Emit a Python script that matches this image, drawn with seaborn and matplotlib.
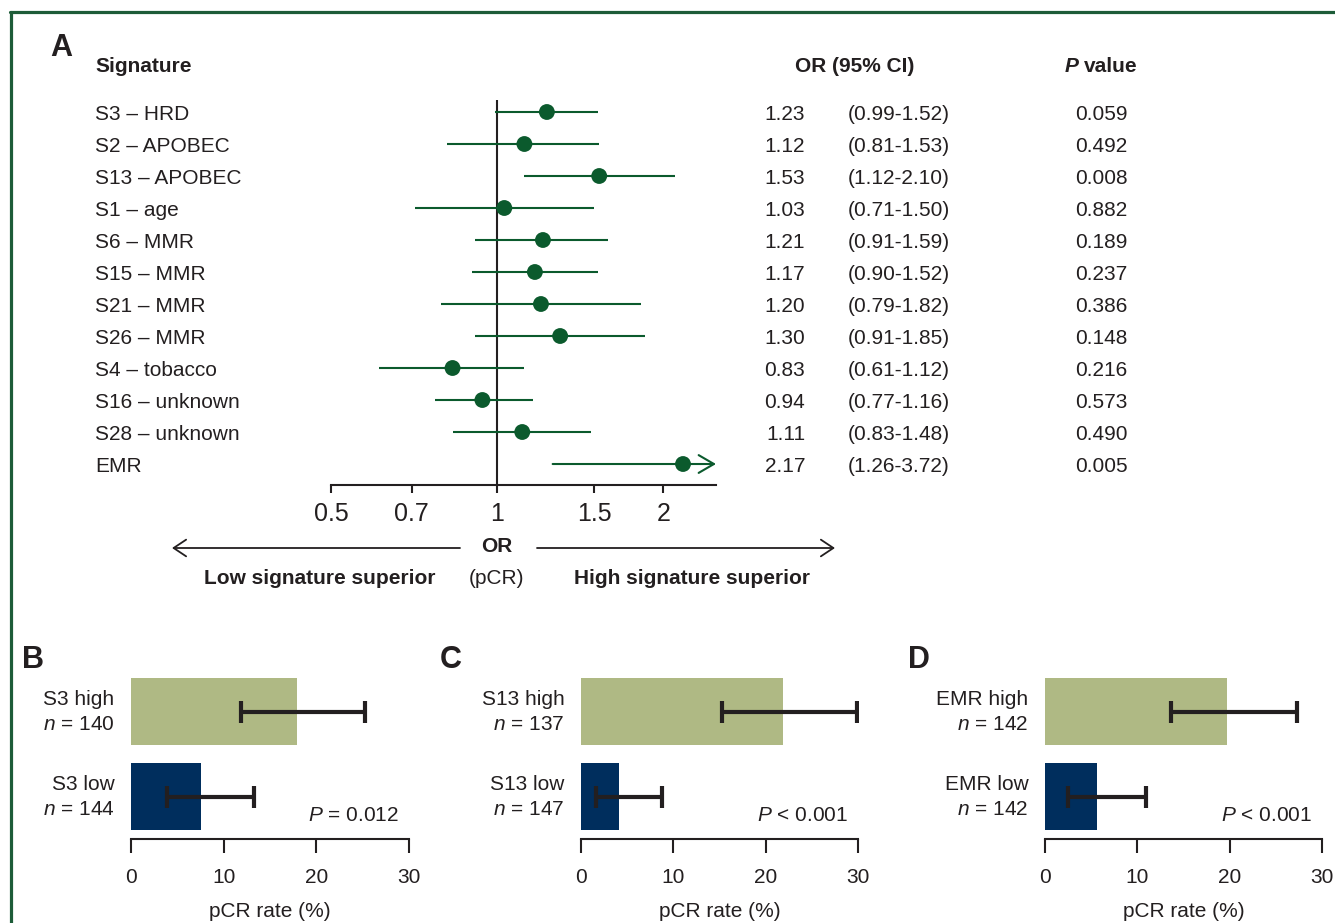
import matplotlib
matplotlib.use("Agg")
import matplotlib.pyplot as plt
import matplotlib.transforms as mtransforms
from matplotlib.lines import Line2D
from matplotlib.patches import ArrowStyle
import seaborn as sns
import pandas as pd

# ---------------- data ----------------
signatures = ["S3 \u2013 HRD", "S2 \u2013 APOBEC", "S13 \u2013 APOBEC", "S1 \u2013 age",
              "S6 \u2013 MMR", "S15 \u2013 MMR", "S21 \u2013 MMR", "S26 \u2013 MMR",
              "S4 \u2013 tobacco", "S16 \u2013 unknown", "S28 \u2013 unknown", "EMR"]
or_values = [1.23, 1.12, 1.53, 1.03, 1.21, 1.17, 1.20, 1.30, 0.83, 0.94, 1.11, 2.17]
ci_low = [0.99, 0.81, 1.12, 0.71, 0.91, 0.90, 0.79, 0.91, 0.61, 0.77, 0.83, 1.26]
ci_high = [1.52, 1.53, 2.10, 1.50, 1.59, 1.52, 1.82, 1.85, 1.12, 1.16, 1.48, 3.72]
p_values = ["0.059", "0.492", "0.008", "0.882", "0.189", "0.237", "0.386",
            "0.148", "0.216", "0.573", "0.490", "0.005"]
or_ticks = [0.5, 0.7, 1, 1.5, 2]
or_tick_labels = ["0.5", "0.7", "1", "1.5", "2"]

panel_letters = ["B", "C", "D"]
bar_groups = [["S3 high", "S3 low"], ["S13 high", "S13 low"], ["EMR high", "EMR low"]]
bar_n = [[140, 144], [137, 147], [142, 142]]
bar_rates = [[17.9, 7.6], [21.9, 4.1], [19.7, 5.6]]
bar_lo = [[11.9, 3.9], [15.3, 1.6], [13.6, 2.5]]
bar_hi = [[25.3, 13.3], [29.9, 8.8], [27.3, 10.9]]
bar_p = [" = 0.012", " < 0.001", " < 0.001"]
rate_ticks = [0, 10, 20, 30]

# ---------------- style ----------------
sns.set_theme(style="white")
plt.rcParams["font.family"] = ["Liberation Sans", "DejaVu Sans"]
plt.rcParams["mathtext.fontset"] = "custom"
plt.rcParams["mathtext.rm"] = "Liberation Sans"
plt.rcParams["mathtext.it"] = "Liberation Sans:italic"
plt.rcParams["mathtext.bf"] = "Liberation Sans:bold"

TXT = "#231f20"
GREEN = "#0b5a2d"
OLIVE = "#afb984"
NAVY = "#002e5d"
FRAME = "#1d5c38"
FS = 15

W, H = 1335, 923
fig = plt.figure(figsize=(W / 100, H / 100), dpi=100)


def fx(px):
    return px / W


def fy(py):
    return 1 - py / H


def rect(l, t, r, b):
    return [fx(l), fy(b), (r - l) / W, (b - t) / H]


# frame
fig.add_artist(Line2D([fx(10.5), fx(10.5)], [fy(11.5), 0], color=FRAME, lw=2.3))
fig.add_artist(Line2D([fx(9.5), 1], [fy(11.5), fy(11.5)], color=FRAME, lw=2.3))

# ---------------- panel A ----------------
ax = fig.add_axes(rect(331, 100, 716, 485))
ax.set_xscale("log")
xmin, xmax = 0.5, 2.49
rows = list(range(len(signatures)))
for i in rows:
    hi = min(ci_high[i], xmax)
    if ci_high[i] > xmax:
        ax.annotate("", xy=(hi, i), xytext=(ci_low[i], i), xycoords="data",
                    arrowprops=dict(arrowstyle=ArrowStyle("->", head_length=0.55, head_width=0.32),
                                    mutation_scale=20, color=GREEN, lw=1.5,
                                    shrinkA=0, shrinkB=0), annotation_clip=False)
    else:
        ax.hlines(i, ci_low[i], hi, color=GREEN, lw=1.5)
df_or = pd.DataFrame({"OR": or_values, "row": rows})
sns.scatterplot(data=df_or, x="OR", y="row", ax=ax, color=GREEN, s=130,
                edgecolor="none", zorder=3)
ax.axvline(1, color=TXT, lw=1.5, zorder=1)
ax.set_xlim(xmin, xmax)
ax.set_ylim(11.656, -0.375)
ax.set_xticks(or_ticks)
ax.set_xticklabels(or_tick_labels)
ax.minorticks_off()
ax.xaxis.set_minor_locator(matplotlib.ticker.NullLocator())
ax.tick_params(axis="x", direction="out", length=6, width=1.5, colors=TXT,
               labelsize=18, pad=6, bottom=True)
ax.set_yticks([])
ax.set_xlabel("")
ax.set_ylabel("")
for s in ["top", "right", "left"]:
    ax.spines[s].set_visible(False)
ax.spines["bottom"].set_color(TXT)
ax.spines["bottom"].set_linewidth(1.5)
ax.patch.set_alpha(0)

trans = mtransforms.blended_transform_factory(fig.transFigure, ax.transData)
for i in rows:
    fig.text(fx(95), i, signatures[i], transform=trans, fontsize=FS, color=TXT,
             ha="left", va="center_baseline")
    fig.text(fx(805), i, f"{or_values[i]:.2f}", transform=trans, fontsize=FS,
             color=TXT, ha="right", va="center_baseline")
    fig.text(fx(848), i, f"({ci_low[i]:.2f}-{ci_high[i]:.2f})", transform=trans,
             fontsize=FS, color=TXT, ha="left", va="center_baseline")
    fig.text(fx(1075), i, p_values[i], transform=trans, fontsize=FS, color=TXT,
             ha="left", va="center_baseline")

fig.text(fx(50), fy(45), "A", fontsize=22, fontweight="bold", color=TXT,
         ha="left", va="center_baseline")
fig.text(fx(95), fy(65), "Signature", fontsize=FS, fontweight="bold", color=TXT,
         ha="left", va="center_baseline")
fig.text(fx(795), fy(65), "OR (95% CI)", fontsize=FS, fontweight="bold", color=TXT,
         ha="left", va="center_baseline")
fig.text(fx(1065), fy(65), "P", fontsize=FS, fontweight="bold", style="italic",
         color=TXT, ha="left", va="center_baseline")
fig.text(fx(1084), fy(65), "value", fontsize=FS, fontweight="bold", color=TXT,
         ha="left", va="center_baseline")

# direction arrows
astyle = ArrowStyle("->", head_length=0.45, head_width=0.3)
for x0, x1 in [(460, 172), (537, 835)]:
    ax.annotate("", xy=(fx(x1), fy(548)), xytext=(fx(x0), fy(548)),
                xycoords="figure fraction", textcoords="figure fraction",
                arrowprops=dict(arrowstyle=astyle, mutation_scale=20, color=TXT,
                                lw=1.3, shrinkA=0, shrinkB=0),
                annotation_clip=False)
fig.text(fx(497), fy(544), "OR", fontsize=FS, fontweight="bold", color=TXT,
         ha="center", va="center_baseline")
fig.text(fx(497), fy(576), "(pCR)", fontsize=FS, color=TXT, ha="center",
         va="center_baseline")
fig.text(fx(320), fy(577), "Low signature superior", fontsize=FS, fontweight="bold",
         color=TXT, ha="center", va="center_baseline")
fig.text(fx(692), fy(577), "High signature superior", fontsize=FS, fontweight="bold",
         color=TXT, ha="center", va="center_baseline")

# ---------------- panels B-D ----------------
bar_rects = [(131, 678, 409, 839), (581, 678, 858, 839), (1045, 678, 1322, 839)]
letter_x = [22, 440, 908]
for k in range(3):
    bx = fig.add_axes(rect(*bar_rects[k]))
    dfb = pd.DataFrame({"rate": bar_rates[k], "group": bar_groups[k]})
    sns.barplot(data=dfb, x="rate", y="group", hue="group", palette=[OLIVE, NAVY],
                width=0.79, saturation=1, legend=False, errorbar=None,
                linewidth=0, orient="h", ax=bx)
    for j in range(2):
        r = bar_rates[k][j]
        bx.errorbar(r, j, xerr=[[r - bar_lo[k][j]], [bar_hi[k][j] - r]], fmt="none",
                    ecolor=TXT, elinewidth=3, capsize=8, capthick=3, zorder=4)
    bx.set_xlim(0, 30)
    bx.set_ylim(1.5, -0.4)
    bx.set_xticks(rate_ticks)
    bx.set_xticklabels([str(t) for t in rate_ticks])
    bx.set_yticks([0, 1])
    bx.set_yticklabels([f"{bar_groups[k][j]}\n$\\mathit{{n}}$ = {bar_n[k][j]}"
                        for j in range(2)], fontsize=FS, color=TXT, linespacing=1.4)
    for lab in bx.get_yticklabels():
        lab.set_verticalalignment("center")
    bx.tick_params(axis="y", length=0, pad=12)
    bx.tick_params(axis="x", direction="out", length=10, width=1.5, colors=TXT,
                   labelsize=FS, pad=11, bottom=True)
    bx.set_xlabel("pCR rate (%)", fontsize=FS, color=TXT, labelpad=11)
    bx.set_ylabel("")
    for s in ["top", "right", "left"]:
        bx.spines[s].set_visible(False)
    bx.spines["bottom"].set_color(TXT)
    bx.spines["bottom"].set_linewidth(1.5)
    bx.patch.set_alpha(0)
    bx.text(0.962, 1.2, "$\\mathit{P}$" + bar_p[k], transform=bx.get_yaxis_transform(),
            fontsize=FS, color=TXT, ha="right", va="center_baseline")
    fig.text(fx(letter_x[k]), fy(657), panel_letters[k], fontsize=22,
             fontweight="bold", color=TXT, ha="left", va="center_baseline")

fig.savefig("out.png", dpi=100)
